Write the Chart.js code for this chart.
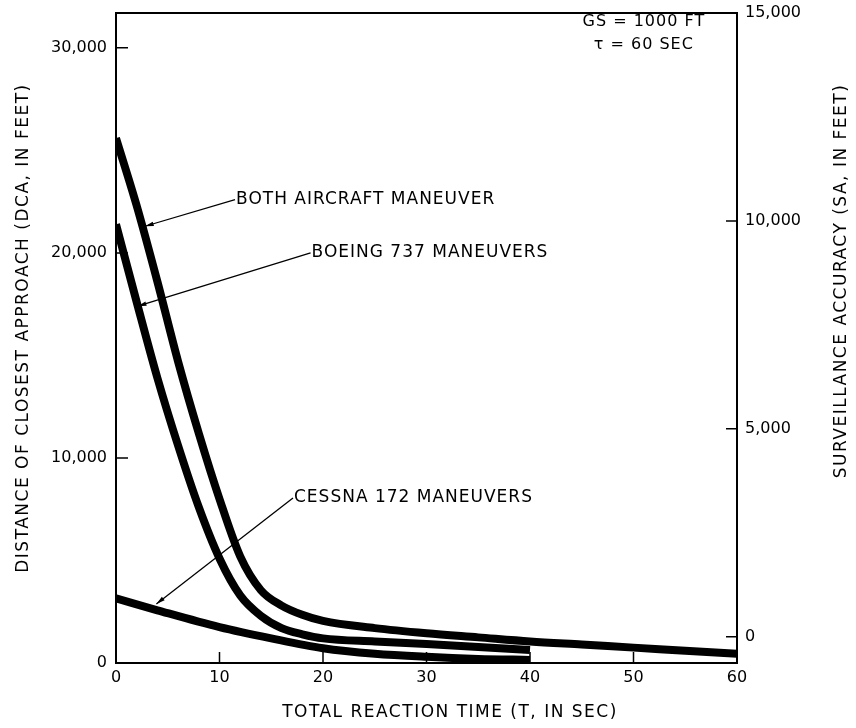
<!DOCTYPE html>
<html>
<head>
<meta charset="utf-8">
<script src="https://cdn.jsdelivr.net/npm/chart.js@4.4.1/dist/chart.umd.min.js"></script>
<style>
  html, body { margin: 0; padding: 0; background: #fff; }
  #wrap { width: 856px; height: 728px; }
</style>
</head>
<body>
<div id="wrap"><canvas id="chart" width="856" height="728"></canvas></div>
<script>
// reaction time (sec) and distance of closest approach (ft)
var bothT   = [0, 2, 4, 6, 8, 10, 12, 14, 16, 18, 20, 25, 30, 35, 40, 45, 50, 55, 60];
var bothDca = [25600, 22300, 18600, 14700, 11200, 8000, 5200, 3550, 2800, 2350, 2050, 1700, 1450, 1250, 1050, 900, 750, 600, 450];

var boeingT   = [0, 2, 4, 6, 8, 10, 12, 14, 16, 18, 20, 25, 30, 35, 40];
var boeingDca = [21400, 17600, 13900, 10600, 7600, 5100, 3300, 2300, 1700, 1400, 1200, 1050, 930, 780, 630];

var cessnaT   = [0, 4, 10, 15, 20, 25, 30, 35, 40];
var cessnaDca = [3150, 2570, 1750, 1200, 720, 450, 300, 200, 150];

// axis ticks
var xTicks = [0, 10, 20, 30, 40, 50, 60];
var dcaTicks = [0, 10000, 20000, 30000];
var saTicks = [0, 5000, 10000, 15000];

// curve labels: text, label anchor (t, dca), arrow tip (t, dca)
var curveLabels = ["BOTH AIRCRAFT MANEUVER", "BOEING 737 MANEUVERS", "CESSNA 172 MANEUVERS"];
var labelAt = [[11.5, 22600], [18.8, 20000], [17.1, 8050]];
var arrowAt = [[2.8, 21300], [2.1, 17400], [3.9, 2880]];

var FONT = "'DejaVu Sans', sans-serif";

function pts(ts, vs) {
    return ts.map(function(t, i) { return { x: t, y: vs[i] }; });
}

function fmt(v) {
    return v.toLocaleString('en-US');
}

function noPad(s) {
    s.paddingTop = 0; s.paddingBottom = 0; s.paddingLeft = 0; s.paddingRight = 0;
}

var extras = {
    id: 'extras',
    afterDraw: function(chart) {
        var ctx = chart.ctx;
        var a = chart.chartArea;
        var x = chart.scales.x, y = chart.scales.y, y2 = chart.scales.y2;
        ctx.save();
        ctx.strokeStyle = '#000';
        ctx.fillStyle = '#000';

        // frame
        ctx.lineWidth = 2;
        ctx.strokeRect(a.left, a.top, a.right - a.left, a.bottom - a.top);

        // inward tick marks
        ctx.lineWidth = 1.5;
        ctx.beginPath();
        xTicks.forEach(function(v) {
            var px = x.getPixelForValue(v);
            ctx.moveTo(px, a.bottom); ctx.lineTo(px, a.bottom - 11);
        });
        dcaTicks.forEach(function(v) {
            var py = y.getPixelForValue(v);
            ctx.moveTo(a.left, py); ctx.lineTo(a.left + 12, py);
        });
        saTicks.forEach(function(v) {
            var py = y2.getPixelForValue(v);
            ctx.moveTo(a.right, py); ctx.lineTo(a.right - 11, py);
        });
        ctx.stroke();

        // leader lines and curve labels
        ctx.font = '17px ' + FONT;
        ctx.letterSpacing = '1px';
        ctx.textBaseline = 'middle';
        ctx.textAlign = 'left';
        curveLabels.forEach(function(txt, i) {
            var lx = x.getPixelForValue(labelAt[i][0]);
            var ly = y.getPixelForValue(labelAt[i][1]);
            var ax = x.getPixelForValue(arrowAt[i][0]);
            var ay = y.getPixelForValue(arrowAt[i][1]);
            ctx.lineWidth = 1.3;
            ctx.beginPath();
            ctx.moveTo(lx, ly); ctx.lineTo(ax, ay);
            ctx.stroke();
            var ang = Math.atan2(ay - ly, ax - lx);
            ctx.beginPath();
            ctx.moveTo(ax, ay);
            ctx.lineTo(ax - 9 * Math.cos(ang - 0.25), ay - 9 * Math.sin(ang - 0.25));
            ctx.lineTo(ax - 9 * Math.cos(ang + 0.25), ay - 9 * Math.sin(ang + 0.25));
            ctx.closePath();
            ctx.fill();
            ctx.fillText(txt, lx + 1, ly);
        });

        // conditions note, top right
        ctx.font = '16px ' + FONT;
        ctx.letterSpacing = '1px';
        ctx.textAlign = 'center';
        var nx = x.getPixelForValue(51);
        ctx.fillText('GS = 1000 FT', nx, y.getPixelForValue(31250));
        ctx.fillText('\u03c4 = 60 SEC', nx, y.getPixelForValue(30150));

        // axis titles
        ctx.font = '17px ' + FONT;
        ctx.letterSpacing = '1.5px';
        ctx.fillText('TOTAL REACTION TIME (T, IN SEC)', 450, 713);
        ctx.save();
        ctx.translate(24, 328);
        ctx.rotate(-Math.PI / 2);
        ctx.fillText('DISTANCE OF CLOSEST APPROACH (DCA, IN FEET)', 0, 0);
        ctx.restore();
        ctx.save();
        ctx.translate(842, 281);
        ctx.rotate(-Math.PI / 2);
        ctx.fillText('SURVEILLANCE ACCURACY (SA, IN FEET)', 0, 0);
        ctx.restore();

        ctx.restore();
    }
};

var lineStyle = {
    borderColor: '#000',
    borderWidth: 8,
    pointRadius: 0,
    fill: false,
    cubicInterpolationMode: 'monotone'
};

new Chart(document.getElementById('chart').getContext('2d'), {
    type: 'line',
    data: {
        datasets: [
            Object.assign({ label: 'Both aircraft maneuver', data: pts(bothT, bothDca) }, lineStyle),
            Object.assign({ label: 'Boeing 737 maneuvers', data: pts(boeingT, boeingDca) }, lineStyle),
            Object.assign({ label: 'Cessna 172 maneuvers', data: pts(cessnaT, cessnaDca) }, lineStyle)
        ]
    },
    options: {
        responsive: false,
        animation: false,
        layout: { padding: { top: 13, left: 0, right: 0, bottom: 0 } },
        plugins: { legend: { display: false }, tooltip: { enabled: false } },
        scales: {
            x: {
                type: 'linear',
                min: 0,
                max: 60,
                afterBuildTicks: function(s) { s.ticks = xTicks.map(function(v) { return { value: v }; }); },
                afterFit: function(s) { s.height = 65; noPad(s); },
                grid: { display: false, drawTicks: false },
                border: { display: false },
                ticks: { color: '#000', padding: 5, font: { family: FONT, size: 16 } }
            },
            y: {
                type: 'linear',
                position: 'left',
                min: 0,
                max: 31700,
                afterBuildTicks: function(s) { s.ticks = dcaTicks.map(function(v) { return { value: v }; }); },
                afterFit: function(s) { s.width = 116; noPad(s); },
                grid: { display: false, drawTicks: false },
                border: { display: false },
                ticks: { color: '#000', padding: 9, font: { family: FONT, size: 16 }, callback: function(v) { return fmt(v); } }
            },
            y2: {
                type: 'linear',
                position: 'right',
                min: -630,
                max: 15000,
                afterBuildTicks: function(s) { s.ticks = saTicks.map(function(v) { return { value: v }; }); },
                afterFit: function(s) { s.width = 119; noPad(s); },
                grid: { display: false, drawTicks: false },
                border: { display: false },
                ticks: { color: '#000', padding: 8, font: { family: FONT, size: 16 }, callback: function(v) { return fmt(v); } }
            }
        }
    },
    plugins: [extras]
});
</script>
</body>
</html>
